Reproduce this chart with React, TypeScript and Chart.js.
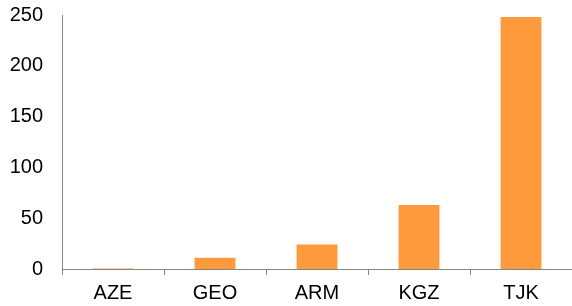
import React, { useEffect, useRef } from "react";
import { Chart, registerables } from "chart.js";

Chart.register(...registerables);

const categories = ["AZE", "GEO", "ARM", "KGZ", "TJK"];
const values = [0.4, 11, 24, 63, 248];
const yTicks = [0, 50, 100, 150, 200, 250];

export default function App() {
  const ref = useRef<HTMLCanvasElement | null>(null);
  useEffect(() => {
    if (!ref.current) return;
    const chart = new Chart(ref.current, {
      type: "bar",
      data: {
        labels: categories,
        datasets: [
          {
            data: values,
            backgroundColor: "#FF9A3C",
            borderWidth: 0,
            barPercentage: 0.4,
            categoryPercentage: 1,
          },
        ],
      },
      options: {
        responsive: false,
        animation: false,
        layout: { padding: { top: 15, right: 0, left: 0, bottom: 0 } },
        plugins: { legend: { display: false }, tooltip: { enabled: false } },
        scales: {
          x: {
            grid: {
              display: true,
              drawOnChartArea: false,
              drawTicks: true,
              tickLength: 6,
              color: "#868686",
            },
            border: { display: true, color: "#868686", width: 1 },
            ticks: {
              color: "#000",
              padding: 6,
              font: { family: "Liberation Sans, Arial", size: 20 },
              maxRotation: 0,
            },
            afterFit: (s: any) => {
              s.height = 37;
              s.paddingLeft = 0;
              s.paddingRight = 0;
            },
          },
          y: {
            min: 0,
            max: 250,
            afterBuildTicks: (s: any) => {
              s.ticks = yTicks.map((v) => ({ value: v }));
            },
            grid: { display: false, drawTicks: false },
            border: { display: true, color: "#868686", width: 1 },
            ticks: {
              color: "#000",
              padding: 19,
              font: { family: "Liberation Sans, Arial", size: 20 },
            },
            afterFit: (s: any) => {
              s.width = 62;
              s.paddingTop = 0;
              s.paddingBottom = 0;
            },
          },
        },
      },
    });
    return () => chart.destroy();
  }, []);
  return (
    <canvas
      ref={ref}
      width={572}
      height={306}
      style={{ position: "absolute", left: 0, top: 0, width: 572, height: 306 }}
    />
  );
}
